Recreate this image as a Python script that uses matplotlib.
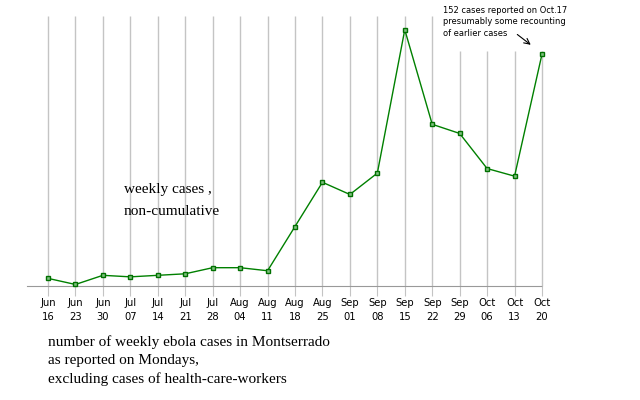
import matplotlib.pyplot as plt
import numpy as np

# weekly ebola cases in Montserrado
months = ["Jun", "Jun", "Jun", "Jul", "Jul", "Jul", "Jul", "Aug", "Aug", "Aug",
          "Aug", "Sep", "Sep", "Sep", "Sep", "Sep", "Oct", "Oct", "Oct"]
days = ["16", "23", "30", "07", "14", "21", "28", "04", "11", "18",
        "25", "01", "08", "15", "22", "29", "06", "13", "20"]
cases = [5, 1, 7, 6, 7, 8, 12, 12, 10, 39, 68, 60, 74, 168, 106, 100, 77, 72, 152]

note = "152 cases reported on Oct.17\npresumably some recounting\nof earlier cases"
label = "weekly cases ,\nnon-cumulative"
caption = ("number of weekly ebola cases in Montserrado\n"
           "as reported on Mondays,\n"
           "excluding cases of health-care-workers")

x = np.arange(len(cases))
labels = [m + "\n" + d for m, d in zip(months, days)]

fig = plt.figure(figsize=(6.4, 4.0), dpi=100)
ax = fig.add_axes([27 / 640, 1 - 286 / 400, (542 - 27) / 640, 270 / 400])
ax.set_xlim(-0.765, 18)
ax.set_ylim(0, 177)

# vertical grid lines, the last ones shorter to leave room for the note
grid_top = np.where(x >= 15, 154, 177)
ax.vlines(x, 0, grid_top, color="#c4c4c4", lw=1, zorder=1, clip_on=False)

ax.plot(x, cases, color="#008000", lw=1, marker="s", markersize=3.5,
        mfc="#80c080", mec="#007000", mew=1, zorder=3, clip_on=False)

for side in ["top", "right", "left"]:
    ax.spines[side].set_visible(False)
ax.spines["bottom"].set_color("#999999")
ax.spines["bottom"].set_linestyle((0, (1, 1)))
ax.set_yticks([])
ax.set_xticks(x)
ax.set_xticklabels(labels, fontsize=8, family="DejaVu Sans", stretch="condensed",
                   linespacing=1.45)
ax.tick_params(axis="x", length=7, color="#c4c4c4", pad=2)

fig.text(124 / 640, 1 - 201 / 400, label, family="Liberation Serif",
         fontsize=11, va="center", linespacing=1.9)
fig.text(48 / 640, 1 - 335 / 400, caption, family="Liberation Serif",
         fontsize=11, va="top", linespacing=1.5)

ax.annotate("", xy=(17.67, 157), xytext=(17.02, 166),
            arrowprops=dict(arrowstyle="->", color="black", lw=0.8), annotation_clip=False)
fig.text(443 / 640, 1 - 6 / 400, note, family="DejaVu Sans", stretch="condensed",
         fontsize=6.7, va="top", linespacing=1.35)

fig.savefig("out.png", dpi=100)
